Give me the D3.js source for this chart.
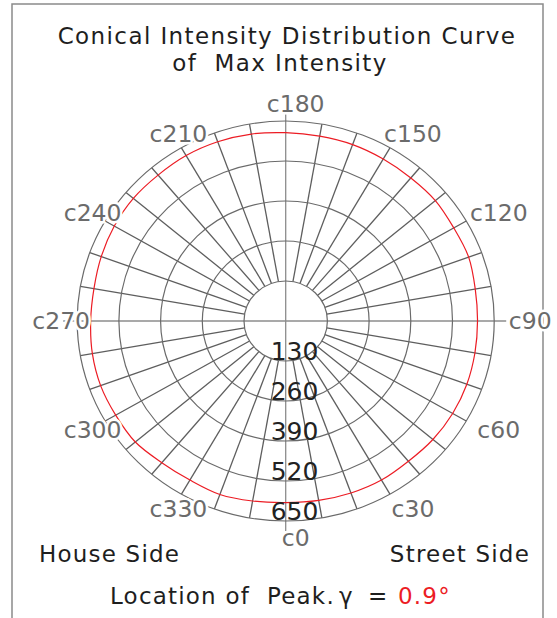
<!DOCTYPE html>
<html>
<head>
<meta charset="utf-8">
<script src="https://cdn.jsdelivr.net/npm/d3@7"></script>
<style>
  body { margin: 0; background: #fff; }
  text { font-family: "DejaVu Sans", sans-serif; }
</style>
</head>
<body>
<svg id="chart" width="557" height="618"></svg>
<script>
// ring values (cd) and the C-plane labels
var ringValues = [130, 260, 390, 520, 650];
var cPlanes = [0, 30, 60, 90, 120, 150, 180, 210, 240, 270, 300, 330];
var spokeAngles = [0, 10, 20, 30, 40, 50, 60, 70, 80, 90, 100, 110, 120, 130, 140, 150, 160, 170,
                   180, 190, 200, 210, 220, 230, 240, 250, 260, 270, 280, 290, 300, 310, 320, 330, 340, 350];

// max intensity per C angle
var curveAngles = [0, 10, 20, 30, 40, 50, 60, 70, 80, 90, 100, 110, 120, 130, 140, 150, 160, 170,
                   180, 190, 200, 210, 220, 230, 240, 250, 260, 270, 280, 290, 300, 310, 320, 330, 340, 350];
var intensity = [590, 592, 595, 597, 595, 599, 601, 601, 599, 598, 600, 607, 605, 609, 607, 608, 610, 610,
                 612, 617, 620, 621, 619, 620, 617, 612, 607, 608, 612, 614, 612, 612, 601, 597, 600, 594];

var titleLines = ["Conical Intensity Distribution Curve", "of  Max Intensity"];
var peakAngle = "0.9°";

var svg = d3.select("#chart");
var cx = 285.7, cy = 321, rx = 208.5, ry = 200;
var maxVal = 650;

var rX = d3.scaleLinear().domain([0, maxVal]).range([0, rx]);
var rY = d3.scaleLinear().domain([0, maxVal]).range([0, ry]);

function rad(a) { return a * Math.PI / 180; }
function px(a, v) { return cx + rX(v) * Math.sin(rad(a)); }
function py(a, v) { return cy + rY(v) * Math.cos(rad(a)); }

// frame
svg.append("rect")
    .attr("x", 12).attr("y", 4)
    .attr("width", 531).attr("height", 640)
    .attr("fill", "none")
    .attr("stroke", "#8a8a8a")
    .attr("stroke-width", 1.5);

// title
svg.selectAll("text.title")
    .data(titleLines)
    .enter().append("text")
    .attr("class", "title")
    .attr("x", function(d, i) { return i === 0 ? 287 : 280; })
    .attr("y", function(d, i) { return 44 + i * 27; })
    .attr("text-anchor", "middle")
    .style("white-space", "pre")
    .style("letter-spacing", "1.4px")
    .attr("font-size", 23)
    .attr("fill", "#1e1e1e")
    .text(function(d) { return d; });

var grid = svg.append("g");

// axes through the centre
grid.append("line")
    .attr("x1", cx - rx - 14).attr("x2", cx + rx + 12)
    .attr("y1", cy).attr("y2", cy)
    .attr("stroke", "#8c8c8c").attr("stroke-width", 1.3);
grid.append("line")
    .attr("x1", cx).attr("x2", cx)
    .attr("y1", cy - ry - 10).attr("y2", cy + ry + 10)
    .attr("stroke", "#8c8c8c").attr("stroke-width", 1.3);

// spokes between the inner ring and the outer ring
grid.selectAll("line.spoke")
    .data(spokeAngles.filter(function(a) { return a % 90 !== 0; }))
    .enter().append("line")
    .attr("class", "spoke")
    .attr("x1", function(a) { return px(a, ringValues[0]); })
    .attr("y1", function(a) { return py(a, ringValues[0]); })
    .attr("x2", function(a) { return px(a, maxVal); })
    .attr("y2", function(a) { return py(a, maxVal); })
    .attr("stroke", "#5e5e5e")
    .attr("stroke-width", 1.3);

// rings
grid.selectAll("ellipse")
    .data(ringValues)
    .enter().append("ellipse")
    .attr("cx", cx).attr("cy", cy)
    .attr("rx", function(v) { return rX(v); })
    .attr("ry", function(v) { return rY(v); })
    .attr("fill", "none")
    .attr("stroke", "#6a6a6a")
    .attr("stroke-width", 1.2);

// intensity curve
var pts = curveAngles.map(function(a, i) { return [a, intensity[i]]; });
var line = d3.line()
    .x(function(d) { return px(d[0], d[1]); })
    .y(function(d) { return py(d[0], d[1]); })
    .curve(d3.curveCatmullRomClosed);

svg.append("path")
    .datum(pts)
    .attr("d", line)
    .attr("fill", "none")
    .attr("stroke", "#ec1c24")
    .attr("stroke-width", 1.2);

// C-plane labels
svg.selectAll("text.cplane")
    .data(cPlanes)
    .enter().append("text")
    .attr("class", "cplane")
    .attr("x", function(a) { return cx + 10 + (rx + 26) * Math.sin(rad(a)); })
    .attr("y", function(a) { return cy + (ry + 17) * Math.cos(rad(a)); })
    .attr("dy", "0.36em")
    .attr("text-anchor", "middle")
    .attr("font-size", 23.5)
    .attr("fill", "#6b6b6b")
    .attr("stroke", "#fff")
    .attr("stroke-width", 5)
    .style("paint-order", "stroke")
    .text(function(a) { return "c" + a; });

// ring value labels
svg.selectAll("text.ring")
    .data(ringValues)
    .enter().append("text")
    .attr("class", "ring")
    .attr("x", cx - 15)
    .attr("y", function(v) { return py(0, v) - 1; })
    .attr("font-size", 25)
    .attr("fill", "#222")
    .text(function(v) { return v; });

// side labels
svg.append("text")
    .attr("x", 39).attr("y", 562)
    .attr("font-size", 23)
    .style("letter-spacing", "1.2px")
    .attr("fill", "#1e1e1e")
    .text("House Side");
svg.append("text")
    .attr("x", 530).attr("y", 562)
    .attr("text-anchor", "end")
    .attr("font-size", 23)
    .style("letter-spacing", "1.2px")
    .attr("fill", "#1e1e1e")
    .text("Street Side");

// peak location
var peak = svg.append("text")
    .attr("y", 604)
    .attr("font-size", 23)
    .style("letter-spacing", "1.2px")
    .style("white-space", "pre")
    .attr("fill", "#1e1e1e");
peak.append("tspan").attr("x", 110).text("Location of  Peak.");
peak.append("tspan").attr("x", 339).text("γ");
peak.append("tspan").attr("x", 368).text("=");
peak.append("tspan").attr("x", 398).attr("fill", "#ec1c24").text(peakAngle);
</script>
</body>
</html>
